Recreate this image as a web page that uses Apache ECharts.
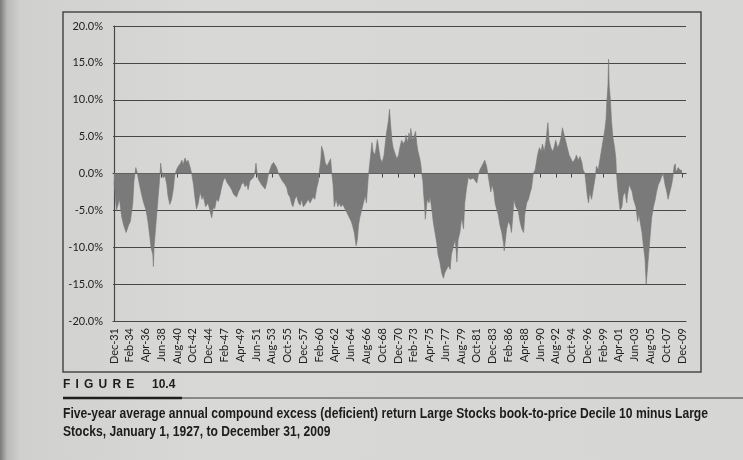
<!DOCTYPE html>
<html>
<head>
<meta charset="utf-8">
<script src="https://cdn.jsdelivr.net/npm/echarts@6.0.0/dist/echarts.min.js"></script>
<style>
html, body { margin: 0; padding: 0; }
body {
    position: relative;
    width: 743px; height: 460px; overflow: hidden;
    background: linear-gradient(to right, #7a7a78 0px, #b9b9b7 7px, #d0d0ce 20px, #d8d8d6 200px, #d6d6d4 743px);
}
#chart { position: absolute; left: 0; top: 0; width: 743px; height: 460px; }
.cap { position: absolute; color: #1c1c1c; font-family: "Liberation Sans", Arial, sans-serif; font-weight: bold; white-space: nowrap; }
#fig { left: 63px; top: 377px; font-size: 12px; letter-spacing: 5.2px; }
#fignum { left: 152px; top: 377px; font-size: 12px; }
.line { left: 63px; font-size: 14px; transform-origin: 0 0; }
#cap1 { top: 405px; }
#cap2 { top: 423px; }
</style>
</head>
<body>
<div id="chart"></div>
<div class="cap" id="fig">FIGURE</div>
<div class="cap" id="fignum">10.4</div>
<div class="cap line" id="cap1">Five-year average annual compound excess (deficient) return Large Stocks book-to-price Decile 10 minus Large</div>
<div class="cap line" id="cap2">Stocks, January 1, 1927, to December 31, 2009</div>
<script>
// x tick labels, one every 26 months starting Dec-1931
var tickLabels = ['Dec-31','Feb-34','Apr-36','Jun-38','Aug-40','Oct-42','Dec-44','Feb-47','Apr-49','Jun-51',
    'Aug-53','Oct-55','Dec-57','Feb-60','Apr-62','Jun-64','Aug-66','Oct-68','Dec-70','Feb-73',
    'Apr-75','Jun-77','Aug-79','Oct-81','Dec-83','Feb-86','Apr-88','Jun-90','Aug-92','Oct-94',
    'Dec-96','Feb-99','Apr-01','Jun-03','Aug-05','Oct-07','Dec-09'];

// months since Dec-1931 at which the curve was read
var monthIdx = [
    0,2,4,9,13,16,20,24,27,31,33,36,38,42,46,49,53,56,59,61,64,65,66,69,71,74,76,77,79,81,
    84,87,89,92,95,98,100,103,106,109,112,114,117,120,122,125,128,131,133,136,139,142,145,147,151,155,158,161,164,166,
    169,172,175,177,180,183,186,188,191,194,197,199,202,205,208,210,213,216,219,221,224,227,230,232,234,236,238,241,243,246,
    249,252,254,257,260,263,265,268,271,274,276,279,282,285,287,290,293,295,298,301,304,307,309,312,315,318,320,323,326,328,
    331,334,337,338,341,342,345,348,351,354,357,359,361,363,366,369,371,374,377,380,382,385,388,391,393,396,399,401,403,405,
    408,411,414,416,419,421,423,425,427,430,432,434,437,439,442,445,447,449,452,454,456,458,460,463,466,469,471,474,477,480,
    481,484,486,488,489,492,494,497,499,501,504,506,507,509,510,512,513,515,516,519,521,524,526,529,532,534,537,540,543,545,
    548,551,554,556,559,562,564,565,567,570,573,576,578,581,584,587,589,592,595,598,600,603,606,608,611,614,616,618,621,623,
    626,628,631,633,636,639,642,643,645,647,650,653,655,657,659,662,666,669,672,675,677,680,683,686,688,691,694,695,698,701,
    704,706,709,712,715,717,720,723,725,728,731,734,737,739,741,744,747,750,753,756,760,762,765,768,771,773,776,778,780,782,
    784,787,790,793,795,798,801,804,806,809,811,812,814,815,816,818,820,822,825,827,828,830,832,834,837,839,842,845,846,849,
    852,854,856,860,863,865,867,870,872,875,877,880,882,884,886,889,892,894,897,900,902,905,908,911,913,916,919,921,923,925,
    926,928,930,932,936
];

// five-year annualized excess return, %
var excessReturn = [
    -1.0,-3.0,-5.0,-3.5,-6.0,-7.0,-8.0,-7.0,-6.5,-4.0,-1.0,0.8,0.2,-1.5,-3.0,-4.0,-5.0,-6.5,-8.5,-10.0,-11.0,-12.6,-10.0,-7.0,-5.0,-2.0,0,1.4,0,-0.6,
    -0.3,-1.5,-3.0,-4.2,-3.5,-2.0,-0.3,0.5,1.0,1.3,1.8,1.2,2.1,1.5,1.8,1.0,0,-1.5,-3.0,-4.8,-4.0,-2.5,-3.5,-3.0,-4.5,-4.0,-5.0,-6.0,-4.5,-4.8,
    -3.5,-3.8,-2.8,-2.0,-1.0,-0.5,-1.2,-1.0,-1.8,-2.2,-2.8,-3.0,-3.2,-2.5,-2.0,-1.5,-1.2,-1.8,-1.5,-2.2,-1.0,-1.2,-0.5,0,1.4,0,-0.8,-1.2,-1.5,-1.8,
    -2.1,-1.2,-0.3,0.5,1.2,1.5,1.3,0.8,0,-0.5,-0.8,-1.2,-1.5,-2.0,-2.8,-3.2,-4.2,-4.5,-3.5,-3.0,-4.0,-4.3,-3.5,-4.5,-4.2,-3.8,-3.5,-4.0,-4.0,-3.2,
    -3.5,-2.0,-1.0,0,2.0,3.7,3.0,1.5,1.0,0.8,2.0,0,-1.5,-4.5,-3.5,-4.5,-4.0,-4.5,-4.2,-4.0,-5.0,-5.5,-6.0,-6.5,-7.0,-8.0,-9.8,-9.0,-7.0,-6.0,
    -5.0,-4.0,-3.0,-4.0,-0.5,1.0,2.5,4.2,3.0,2.5,3.5,4.6,3.0,2.0,1.5,2.5,4.0,5.5,7.0,8.7,6.5,4.5,3.5,3.5,2.0,2.5,3.5,4.5,4.0,4.5,
    5.2,4.2,5.5,4.5,6.1,4.5,5.0,5.7,4.0,3.0,2.0,1.0,0,-1.0,-2.5,-4.5,-6.2,-4.5,-3.5,-4.0,-3.2,-5.0,-6.5,-8.0,-9.5,-11.0,-12.0,-13.5,-14.2,-13.5,
    -13.0,-12.5,-13.0,-11.0,-10.0,-9.0,-10.5,-12.0,-9.0,-8.0,-6.0,-7.5,-4.0,-2.0,-0.5,-0.8,-1.0,-0.6,-0.5,-1.3,-0.3,0.5,1.0,1.3,1.8,1.0,0,-1.0,-2.5,-1.5,
    -2.5,-4.0,-5.0,-5.5,-7.0,-8.0,-9.5,-10.5,-9.0,-7.5,-6.5,-7.0,-8.0,-6.0,-3.5,-4.5,-5.0,-6.5,-7.5,-8.0,-5.5,-4.0,-3.5,-2.5,-2.0,0,0.5,1.0,2.5,3.5,
    3.0,4.0,3.0,4.5,6.9,4.5,3.5,3.0,3.5,4.5,3.5,4.0,5.0,6.2,5.5,4.5,3.5,2.5,2.0,1.5,2.0,2.5,1.8,2.3,1.5,0.5,0,-1.5,-3.0,-4.0,
    -2.5,-3.5,-2.0,-0.5,1.0,0.5,2.0,3.5,4.5,6.0,7.5,9.5,12.0,15.5,12.0,10.0,7.0,5.0,3.5,2.0,0,-2.0,-3.5,-5.0,-4.5,-3.0,-2.5,-4.0,-3.0,-1.5,
    -1.5,-2.5,-3.5,-4.5,-6.5,-5.5,-6.5,-8.0,-9.5,-11.5,-15.0,-12.0,-10.0,-8.0,-6.0,-4.5,-3.5,-2.5,-1.5,-1.0,-0.5,0,-1.5,-2.5,-3.5,-2.5,-1.5,-0.5,1.0,1.3,
    0.2,0.5,0.8,0.5,0.4
];

var tickValues = tickLabels.map(function (t, i) { return i * 26; });
var seriesData = monthIdx.map(function (m, i) { return [m, excessReturn[i]]; });

var gridColor = '#474747';
var textColor = '#1f1f1f';
var axisFont = 'Lato';

// squeeze the caption into the condensed width of the printed figure
var cap1 = document.getElementById('cap1');
var cap2 = document.getElementById('cap2');
var squeeze = 645 / cap1.getBoundingClientRect().width;
cap1.style.transform = 'scaleX(' + squeeze + ')';
cap2.style.transform = 'scaleX(' + squeeze + ')';

var myChart = echarts.init(document.getElementById('chart'));

var option = {
    animation: false,
    grid: { left: 113, right: 57, top: 26, bottom: 139 },
    xAxis: [{
        type: 'value',
        min: -1.6,
        max: 942.6,
        position: 'bottom',
        axisLine: { onZero: false, show: true, lineStyle: { color: gridColor, width: 1.2 } },
        axisTick: { show: false },
        splitLine: { show: false },
        axisLabel: {
            rotate: 90,
            margin: 7,
            fontFamily: axisFont,
            fontSize: 11,
            color: textColor,
            customValues: tickValues,
            formatter: function (v) { return tickLabels[Math.round(v / 26)]; }
        }
    }, {
        type: 'value',
        min: -1.6,
        max: 942.6,
        position: 'bottom',
        axisLine: { onZero: true, show: true, lineStyle: { color: gridColor, width: 1.2 } },
        axisTick: { show: true, length: 4, customValues: tickValues, lineStyle: { color: gridColor } },
        axisLabel: { show: false },
        splitLine: { show: false }
    }],
    yAxis: {
        type: 'value',
        min: -20,
        max: 20,
        interval: 5,
        axisLine: { show: true, lineStyle: { color: gridColor, width: 1.2 } },
        axisTick: { show: false },
        axisLabel: {
            margin: 10,
            fontFamily: axisFont,
            fontSize: 11,
            color: textColor,
            formatter: function (v) { return v.toFixed(1) + '%'; }
        },
        splitLine: { lineStyle: { color: gridColor, width: 1.2 } }
    },
    series: [{
        type: 'line',
        xAxisIndex: 0,
        data: seriesData,
        showSymbol: false,
        lineStyle: { width: 0.6, color: '#777' },
        areaStyle: { color: '#7a7a7a', opacity: 1 }
    }],
    graphic: [
        { type: 'rect', shape: { x: 63, y: 12, width: 638, height: 360 },
          style: { fill: 'none', stroke: '#4a4a4a', lineWidth: 1.5 } },
        { type: 'line', shape: { x1: 63, y1: 398, x2: 743, y2: 398 },
          style: { stroke: '#3a3a3a', lineWidth: 1 } },
        { type: 'line', shape: { x1: 63, y1: 398, x2: 182, y2: 398 },
          style: { stroke: '#1e1e1e', lineWidth: 2.5 } }
    ]
};

myChart.setOption(option);
</script>
</body>
</html>
